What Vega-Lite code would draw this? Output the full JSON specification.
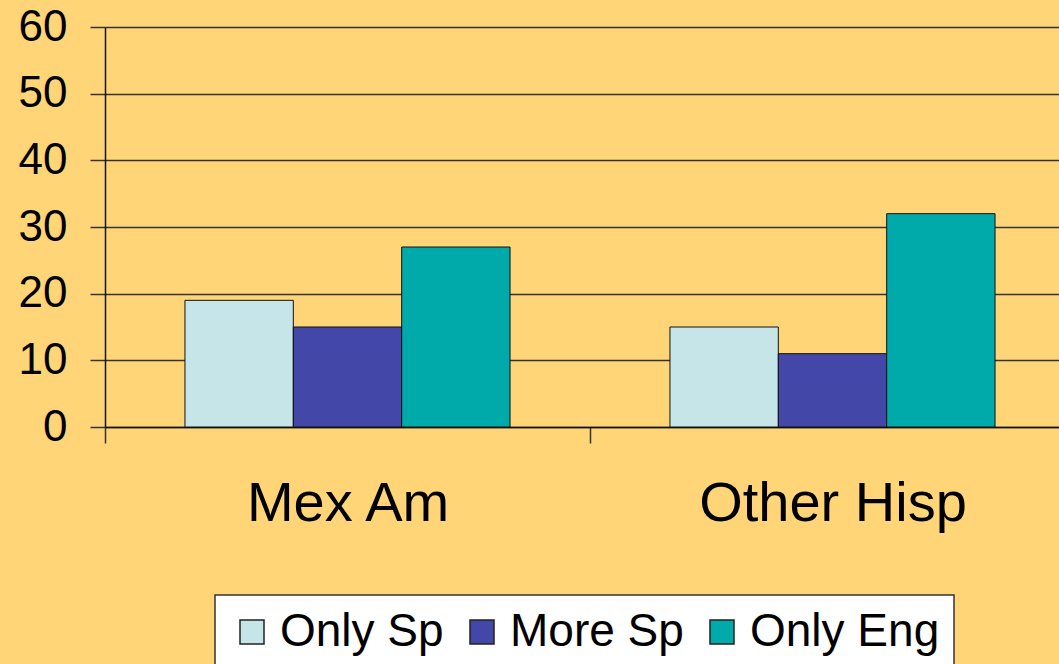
{
  "$schema": "https://vega.github.io/schema/vega-lite/v6.json",
  "width": 954,
  "height": 400,
  "autosize": "none",
  "padding": {"left": 105, "top": 27, "right": 0, "bottom": 237},
  "background": "#FFD578",
  "config": {
    "view": {"stroke": null},
    "font": "Liberation Sans",
    "legend": {
      "fillColor": "#FFFFFF",
      "strokeColor": "#333333",
      "strokeWidth": 1.5
    }
  },
  "data": {
    "values": [
      {"group": "Mex Am", "lang": "Only Sp", "value": 19},
      {"group": "Mex Am", "lang": "More Sp", "value": 15},
      {"group": "Mex Am", "lang": "Only Eng", "value": 27},
      {"group": "Other Hisp", "lang": "Only Sp", "value": 15},
      {"group": "Other Hisp", "lang": "More Sp", "value": 11},
      {"group": "Other Hisp", "lang": "Only Eng", "value": 32}
    ]
  },
  "mark": {"type": "bar", "stroke": "#111111", "strokeWidth": 1},
  "encoding": {
    "x": {
      "field": "group",
      "type": "nominal",
      "sort": ["Mex Am", "Other Hisp"],
      "scale": {"range": [0, 970], "paddingInner": 0, "paddingOuter": 0},
      "axis": {
        "title": null,
        "labelAngle": 0,
        "labelLimit": 0,
        "labelFont": "Liberation Sans",
        "labelFontSize": 56,
        "labelColor": "#000000",
        "labelPadding": 33,
        "tickBand": "extent",
        "tickSize": 16,
        "tickColor": "#333333",
        "tickWidth": 1.5,
        "domainColor": "#111111",
        "domainWidth": 1.5
      }
    },
    "xOffset": {
      "field": "lang",
      "type": "nominal",
      "sort": ["Only Sp", "More Sp", "Only Eng"],
      "scale": {"paddingInner": 0, "paddingOuter": 0.738}
    },
    "y": {
      "field": "value",
      "type": "quantitative",
      "scale": {"domain": [0, 60], "nice": false},
      "axis": {
        "title": null,
        "values": [0, 10, 20, 30, 40, 50, 60],
        "labelFont": "Liberation Sans",
        "labelFontSize": 44,
        "labelColor": "#000000",
        "labelPadding": 23,
        "tickSize": 15,
        "tickColor": "#333333",
        "tickWidth": 1.5,
        "domainColor": "#111111",
        "domainWidth": 1.5,
        "grid": true,
        "gridColor": "#333333",
        "gridWidth": 1.5
      }
    },
    "color": {
      "field": "lang",
      "type": "nominal",
      "sort": ["Only Sp", "More Sp", "Only Eng"],
      "scale": {
        "domain": ["Only Sp", "More Sp", "Only Eng"],
        "range": ["#C6E5E8", "#4347A8", "#00A9AA"]
      },
      "legend": {
        "title": null,
        "orient": "none",
        "legendX": 110,
        "legendY": 568,
        "direction": "horizontal",
        "symbolType": "square",
        "symbolSize": 576,
        "symbolStrokeColor": "#222222",
        "symbolStrokeWidth": 1.5,
        "symbolOpacity": 1,
        "labelFont": "Liberation Sans",
        "labelFontSize": 46,
        "labelLimit": 0,
        "labelColor": "#000000",
        "labelOffset": 5,
        "columnPadding": 15,
        "padding": 14
      }
    }
  }
}
